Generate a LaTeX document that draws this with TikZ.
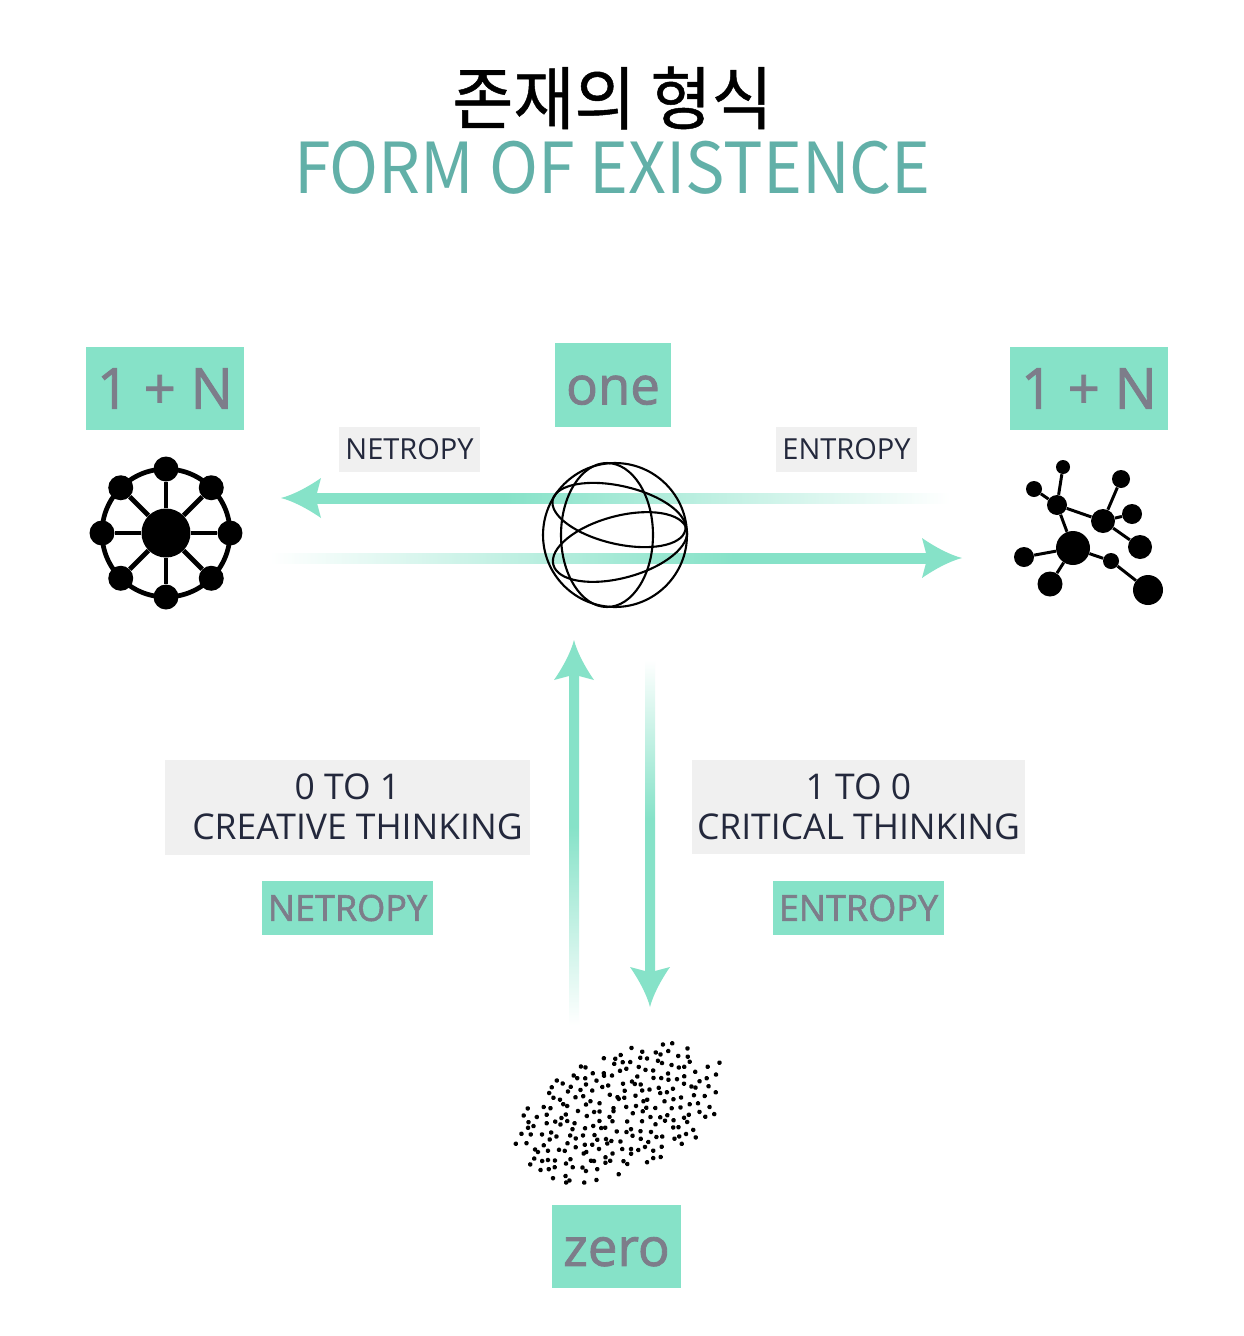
\documentclass[tikz,border=0pt]{standalone}
\usepackage{fontspec}
\setmainfont{Open Sans}
\newfontfamily\semib{Open Sans}[FakeBold=1.6]
\newfontfamily\kofont{Noto Sans CJK KR}[FakeStretch=0.97, FakeBold=0.7]
\newfontfamily\entitle{Noto Sans CJK KR}[FakeStretch=0.94]
\usepackage{xcolor}
\usetikzlibrary{positioning, calc}

\definecolor{mint}{HTML}{86E2C8}
\definecolor{titleteal}{HTML}{62B0A8}
\definecolor{boxtext}{HTML}{7D7D8A}
\definecolor{panel}{HTML}{F0F0F0}
\definecolor{ink}{HTML}{23283C}

% fading shafts (path spans 25bp--75bp)
\pgfdeclarehorizontalshading{fadeleft}{100bp}{color(0bp)=(mint); color(40bp)=(mint); color(75bp)=(white); color(100bp)=(white)}
\pgfdeclarehorizontalshading{faderight}{100bp}{color(0bp)=(white); color(25bp)=(white); color(60bp)=(mint); color(100bp)=(mint)}
\pgfdeclareverticalshading{fadeup}{100bp}{color(0bp)=(white); color(25bp)=(white); color(53bp)=(mint); color(100bp)=(mint)}
\pgfdeclareverticalshading{fadedown}{100bp}{color(0bp)=(mint); color(50bp)=(mint); color(75bp)=(white); color(100bp)=(white)}

\begin{document}
\begin{tikzpicture}[x=0.02cm, y=-0.02cm,
    mintbox/.style={fill=mint, text=boxtext, inner sep=0pt, font=\semib\fontsize{32}{32}\selectfont},
    greybox/.style={fill=panel, text=ink, inner sep=0pt, align=center},
    dot/.style={circle, fill=black, inner sep=0pt},
    bond/.style={line width=1.7pt},
    globeline/.style={line width=1.2pt},
    arrowtip/.pic={\fill[mint] (0,0) .. controls (12,-3) and (27,-11) .. (40,-20) -- (36,-5) -- (36,5) -- (40,20) .. controls (27,11) and (12,3) .. (0,0) -- cycle;}
]
    \fill[white] (0,0) rectangle (1244,1336);
    \useasboundingbox (0,0) rectangle (1244,1336);

    % title
    \node[font=\kofont\fontsize{39}{39}\selectfont] (titleKo) at (612.5,98) {존재의 형식};
    \node[font=\entitle\fontsize{40}{40}\selectfont, text=titleteal] (titleEn) at (612.5,167.5) {FORM OF EXISTENCE};

    % labels
    \node[mintbox, minimum width=3.16cm, minimum height=1.66cm] (leftN) at (165,388.5) {1 + N};
    \node[mintbox, minimum width=2.32cm, minimum height=1.68cm, font=\semib\fontsize{30}{30}\selectfont, text height=22pt, text depth=0pt] (one) at (613,385) {one};
    \node[mintbox, minimum width=3.16cm, minimum height=1.66cm] (rightN) at (1089,388.5) {1 + N};
    \node[greybox, minimum width=2.82cm, minimum height=0.9cm, font=\fontsize{16.5}{18}\selectfont] (netTop) at (409.5,449.5) {NETROPY};
    \node[greybox, minimum width=2.82cm, minimum height=0.9cm, font=\fontsize{16.5}{18}\selectfont] (entTop) at (846.5,449.5) {ENTROPY};
    \node[greybox, minimum width=7.3cm, minimum height=1.9cm, font=\fontsize{20.2}{23}\selectfont] (creative) at (347.5,807) {0 TO 1\\\hspace*{0.4cm}CREATIVE THINKING};
    \node[greybox, minimum width=6.66cm, minimum height=1.88cm, font=\fontsize{20.2}{23}\selectfont] (critical) at (858.5,807) {1 TO 0\\CRITICAL THINKING};
    \node[mintbox, minimum width=3.42cm, minimum height=1.08cm, font=\semib\fontsize{20.5}{20.5}\selectfont] (netBox) at (347.5,908) {NETROPY};
    \node[mintbox, minimum width=3.42cm, minimum height=1.08cm, font=\semib\fontsize{20.5}{20.5}\selectfont] (entBox) at (858.5,908) {ENTROPY};
    \node[mintbox, minimum width=2.58cm, minimum height=1.66cm, font=\semib\fontsize{30}{30}\selectfont, text height=22pt, text depth=0pt] (zero) at (616.5,1246.5) {zero};

    % arrows
    \coordinate (netTip) at (281,498);
    \coordinate (netEnd) at (950,498);
    \coordinate (entEnd) at (270,558);
    \coordinate (entTip) at (962,558);
    \coordinate (upTip) at (574,640);
    \coordinate (upEnd) at (574,1025);
    \coordinate (downEnd) at (650,660);
    \coordinate (downTip) at (650,1007);
    \shade[shading=fadeleft] ($(netTip)+(30,-5)$) rectangle ($(netEnd)+(0,5)$);
    \pic at (netTip) {arrowtip};
    \shade[shading=faderight] ($(entEnd)+(0,-5)$) rectangle ($(entTip)+(-30,5)$);
    \pic[rotate=180] at (entTip) {arrowtip};
    \shade[shading=fadeup] ($(upTip)+(-5,30)$) rectangle ($(upEnd)+(5,0)$);
    \pic[rotate=-90] at (upTip) {arrowtip};
    \shade[shading=fadedown] ($(downEnd)+(-5,0)$) rectangle ($(downTip)+(5,-30)$);
    \pic[rotate=90] at (downTip) {arrowtip};

    % wheel (1 + N, left)
    \node[dot, minimum size=0.98cm] (hub) at (166,533) {};
    \draw[line width=2.7pt] (hub) circle (1.28cm);
    \foreach \a [count=\i] in {0,45,...,315}{
        \node[dot, minimum size=0.5cm] (w\i) at ($(hub)+(\a:64)$) {};
        \draw[line width=2.7pt] (hub) -- (w\i);
    }

    % globe (one)
    \node[circle, draw, globeline, minimum size=2.88cm, inner sep=0pt] (globe) at (615,535) {};
    \draw[globeline] (607,535) ellipse [x radius=0.92cm, y radius=1.44cm];
    \draw[globeline, rotate around={-13:(619,515)}] (619,515) ellipse [x radius=1.36cm, y radius=0.58cm];
    \draw[globeline, rotate around={15:(620,547)}] (620,547) ellipse [x radius=1.38cm, y radius=0.62cm];

    % molecule (1 + N, right)
    \node[dot, minimum size=0.28cm] (m1) at (1063,467) {};
    \node[dot, minimum size=0.32cm] (m2) at (1034,489) {};
    \node[dot, minimum size=0.4cm] (m3) at (1057,505) {};
    \node[dot, minimum size=0.36cm] (m4) at (1121,479) {};
    \node[dot, minimum size=0.48cm] (m5) at (1103,521) {};
    \node[dot, minimum size=0.4cm] (m6) at (1132,514) {};
    \node[dot, minimum size=0.48cm] (m7) at (1140,547) {};
    \node[dot, minimum size=0.68cm] (m8) at (1073,548) {};
    \node[dot, minimum size=0.4cm] (m9) at (1024,557) {};
    \node[dot, minimum size=0.5cm] (m10) at (1050,584) {};
    \node[dot, minimum size=0.32cm] (m11) at (1111,561) {};
    \node[dot, minimum size=0.6cm] (m12) at (1148,590) {};
    \draw[bond] (m1) -- (m3);
    \draw[bond] (m2) -- (m3);
    \draw[bond] (m3) -- (m5);
    \draw[bond] (m3) -- (m8);
    \draw[bond] (m4) -- (m5);
    \draw[bond] (m5) -- (m6);
    \draw[bond] (m5) -- (m7);
    \draw[bond] (m8) -- (m9);
    \draw[bond] (m8) -- (m10);
    \draw[bond] (m8) -- (m11);
    \draw[bond] (m11) -- (m12);

    % dust cloud (zero)
    \pgfmathsetseed{42}
    \begin{scope}[shift={(617,1113)}, rotate=22]
        \foreach \gy [count=\row] in {-63,-54,...,63}{
            \foreach \gx in {-117,-108,...,117}{
                \pgfmathsetmacro\px{\gx+4.5*mod(\row,2)+3.5*rand}
                \pgfmathsetmacro\py{\gy+3.5*rand}
                \pgfmathtruncatemacro\inside{((\px/108)^2+(\py/60)^2)<(0.75+0.4*rnd)}
                \ifnum\inside=1
                    \fill (\px,\py) circle (0.046cm);
                \fi
            }
        }
    \end{scope}
\end{tikzpicture}
\end{document}
